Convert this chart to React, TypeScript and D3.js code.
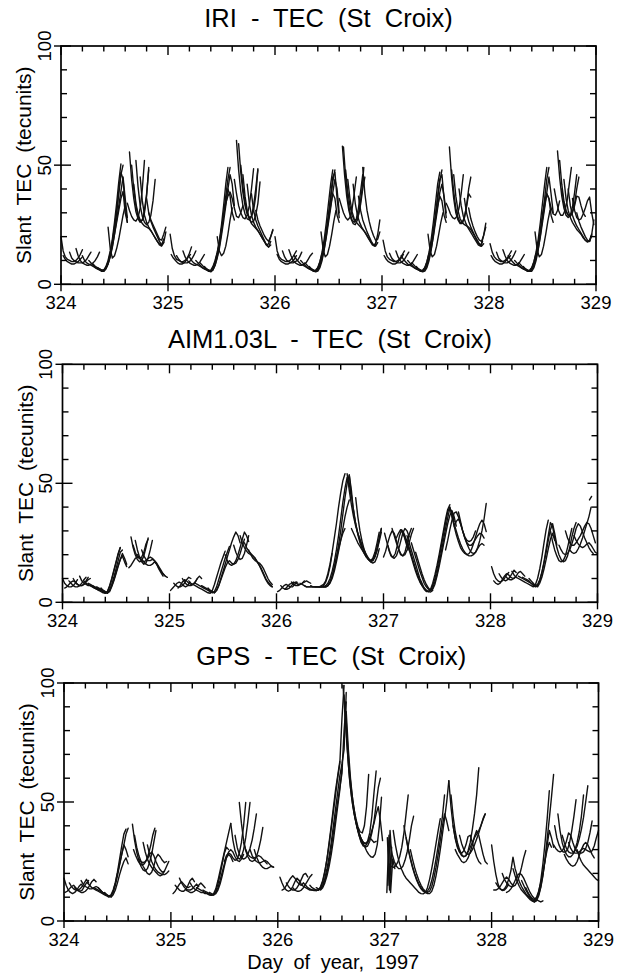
import React from "react";
import * as d3 from "d3";

// Each trace: [startDay, v0, v1, ...] sampled every STEP days
const STEP = 0.02;

const panelTitles = ["IRI - TEC (St Croix)", "AIM1.03L - TEC (St Croix)", "GPS - TEC (St Croix)"];
const dayTicks = [324, 325, 326, 327, 328, 329];
const yMajorTicks = [0, 50, 100];
const yMinorTicks = [10, 20, 30, 40, 60, 70, 80, 90];
const yLabel = "Slant TEC (tecunits)";
const xLabel = "Day of year, 1997";

const iri324 = [
  [324.00, 20, 14, 11.5, 10.5, 10, 9.5, 9.5, 10, 11, 12.5, 14.5],
  [324.02, 12, 10.5, 9.5, 9, 8.5, 8.5, 9, 9.5, 10.5, 11.5],
  [324.08, 13.5, 11, 10, 9.5, 9, 9, 9, 9.5, 10.5, 12, 13.5],
  [324.14, 15, 12, 10, 9, 8.5, 8, 8, 8.5, 9, 10, 11.5, 13.5],
  [324.20, 12, 10, 9, 8.5, 8, 7.5, 7, 6.5, 6, 5.5, 5.5, 6.5, 8.5, 12, 17, 23, 30, 38, 46, 50],
  [324.26, 10, 9, 8, 7, 6.5, 6, 5.5, 6, 7.5, 10, 14, 19, 26, 34, 43, 50.5],
  [324.30, 8.5, 7.5, 7, 6.5, 6, 6, 7, 9.5, 13, 18, 24, 31, 39, 47, 44, 33, 26],
  [324.34, 7, 6.5, 6, 5.5, 6.5, 8.5, 11.5, 15.5, 21, 27, 33, 39, 45, 36, 28],
  [324.38, 5.5, 6, 7, 9, 12, 16, 21, 26, 31, 36, 39, 30, 26],
  [324.44, 24, 15, 11, 12, 15, 19, 24, 29, 33],
  [324.62, 34, 31, 28.5, 27, 26.5, 28, 32, 40, 52],
  [324.64, 55.5, 44, 36, 30.5, 27.5, 26, 27, 31, 38, 48],
  [324.66, 50, 40, 33, 28.5, 26.5, 27, 30, 37, 49],
  [324.70, 52, 41, 33, 28.5, 26, 25, 26, 29, 35, 44],
  [324.68, 42, 34, 29.5, 27, 25.5, 24.5, 24, 23.5, 22.5, 21, 19.5, 18, 16.5, 16, 17.5],
  [324.74, 45, 35, 29, 26, 24, 22.5, 21, 19.5, 18, 17, 16.5, 19],
  [324.80, 36, 30, 26.5, 24, 22, 20, 18, 16.5, 17.5, 22],
  [324.82, 30, 27, 25, 23, 21, 19, 18.5, 21, 24],
];

const iri325 = [
  [325.02, 21, 15, 12, 10.5, 10, 9.5, 9.5, 10, 11, 13, 15.7],
  [325.03, 12.5, 11, 10, 9, 8.5, 8.5, 9, 10, 11.5, 12.5],
  [325.08, 12, 10.5, 9.5, 9, 9, 9, 9.5, 10.5, 12, 14],
  [325.14, 14, 11.5, 10, 9, 8.5, 8, 8, 8.5, 9.5, 11, 12.5],
  [325.20, 11.5, 10, 9, 8.5, 8, 7.5, 7, 6.5, 6, 5.5, 5.2, 6, 8, 11.5, 16, 22, 29, 37, 44, 49],
  [325.26, 10, 9, 8, 7, 6.5, 6, 5.5, 5.5, 7, 9.5, 13, 18, 25, 33, 42, 49],
  [325.30, 9, 8, 7, 6.5, 6, 5.5, 6.5, 9, 12.5, 17, 23, 29, 34, 37, 38.7, 36, 32, 28.5, 28, 30, 33],
  [325.34, 7.5, 6.5, 6, 5.5, 6, 8, 11, 15, 20.5, 26.5, 33, 40, 46, 42, 33],
  [325.38, 5.5, 6, 7.5, 10, 13.5, 18, 23.5, 29, 35, 40, 37, 30, 27],
  [325.46, 20, 14, 12, 13, 16, 21, 27, 32],
  [325.64, 60.4, 48, 39, 33, 29.5, 27.5, 27, 28.5, 33, 40, 48.5],
  [325.66, 59, 47, 38.5, 33, 29.5, 28, 28.5, 31, 37, 48],
  [325.62, 44, 38, 33, 30, 28, 27.5, 29, 33, 40, 48.5],
  [325.68, 50, 41, 34.5, 30, 27.5, 26, 26.5, 29, 34, 43],
  [325.70, 46, 37, 31, 27.5, 25.5, 24.5, 23.5, 22.5, 21, 19.5, 18, 16.5, 15.6, 16.5],
  [325.74, 42, 34, 29, 26, 24, 22.5, 21, 19.5, 18, 16.5, 15.6, 18],
  [325.78, 38, 31, 27, 24.5, 22.5, 20.5, 18.5, 16.5, 17, 20, 22.6],
  [325.82, 31, 27, 24.5, 22.5, 20.5, 19, 18, 20, 23],
];

const iri326 = [
  [326.00, 20, 14, 11.5, 10.5, 10, 9.5, 9.5, 10, 11, 12.5, 14],
  [326.02, 12.5, 10.5, 9.5, 9, 8.5, 8.5, 9, 9.5, 10.5, 12],
  [326.07, 14, 11.5, 10, 9.5, 9, 9, 9.5, 10, 11.5, 13.5],
  [326.13, 14.5, 12, 10, 9, 8.5, 8, 8, 8.5, 9, 10.5, 12, 13],
  [326.18, 12, 10.5, 9.5, 8.5, 8, 7.5, 7, 6.5, 6, 5.5, 5.2, 5.5, 7, 10, 14.5, 20.5, 28, 36, 43, 48],
  [326.24, 10, 9, 8, 7, 6.5, 6, 5.5, 5.5, 7, 9.5, 13.5, 19, 26, 34, 42, 48],
  [326.28, 9, 8, 7, 6.5, 6, 5.5, 6.5, 8.5, 12, 16.5, 22.5, 29.5, 37, 45, 47, 36, 28],
  [326.32, 7.5, 6.5, 6, 5.5, 6, 8, 11, 15, 20, 26, 32, 38.5, 44, 40, 30],
  [326.36, 5.5, 6, 7, 9.5, 13, 17, 22, 27.5, 33, 38, 36, 29, 26],
  [326.43, 22, 14.5, 11.5, 12.5, 16, 21, 26.5, 31],
  [326.60, 36, 33, 30, 28, 27, 28, 31.5, 38, 45],
  [326.63, 58, 46, 37, 31, 27.5, 25.5, 25, 27, 31.5, 38.5, 49],
  [326.64, 57.6, 45, 36, 30, 27, 26, 27.5, 32, 39, 46],
  [326.66, 48, 39, 33, 29, 27, 27, 29, 33.5, 40, 45],
  [326.68, 44, 36, 30.5, 27.5, 26, 25, 24, 23, 22, 20.5, 19, 17.5, 16.5, 16, 17.5],
  [326.73, 42, 34, 29, 26, 24, 22.5, 21, 19.5, 18, 16.5, 16, 18.5],
  [326.78, 37, 31, 27, 24.5, 22, 20, 18, 16.5, 17, 21, 27],
  [326.82, 49, 38, 31, 26.5, 23, 20.5, 18.5, 19, 22],
];

const iri327 = [
  [327.01, 18.5, 14, 11.5, 10.5, 10, 9.5, 9.5, 10, 11, 12.5, 14],
  [327.02, 12, 10.5, 9.5, 9, 8.5, 8.5, 9, 10, 11, 12.5],
  [327.07, 13, 11, 10, 9.5, 9, 9, 9.5, 10.5, 12, 13.5],
  [327.13, 14, 11.5, 10, 9, 8.5, 8, 8, 8.5, 9.5, 11, 12.5],
  [327.18, 12, 10.5, 9.5, 8.5, 8, 7.5, 7, 6.5, 6, 5.5, 5.2, 5.5, 7, 10, 14.5, 20.5, 28, 36, 43, 48],
  [327.24, 10, 9, 8, 7, 6.5, 6, 5.5, 5.5, 7, 9.5, 13.5, 19, 26, 34, 42, 47],
  [327.28, 9, 8, 7, 6.5, 6, 5.5, 6.5, 8.5, 12, 16.5, 22.5, 29.5, 37, 44, 46, 36, 28],
  [327.32, 7.5, 6.5, 6, 5.5, 6, 8, 11, 15, 20, 26, 32, 38.5, 42, 37, 30],
  [327.36, 5.5, 6, 7, 9.5, 13, 17, 22, 27.5, 33, 37, 35, 29, 26],
  [327.43, 21, 14, 11.5, 12.5, 16, 21, 26, 30],
  [327.60, 34, 32, 29.5, 28, 27.5, 28.5, 32, 38, 46],
  [327.63, 57.6, 45, 36, 30, 27, 25.5, 25.5, 28, 33, 40, 45],
  [327.65, 48, 39, 32, 28, 26, 26, 28, 32.5, 38, 36.6],
  [327.67, 46, 37, 31, 27.5, 26, 25, 24.5, 24, 23, 21.5, 20, 18.5, 17, 16, 17],
  [327.72, 40, 33, 28.5, 26, 24, 22.5, 21, 19.5, 18, 16.5, 16, 18],
  [327.77, 36, 30, 26.5, 24, 22, 20, 18, 16.5, 17, 20.5, 25.6],
  [327.81, 32, 27.5, 24.5, 22, 20, 18.5, 18, 20.5, 24],
];

const iri328 = [
  [328.01, 17, 13.5, 11.5, 10.5, 10, 9.5, 9.5, 10, 11, 12.5, 14],
  [328.02, 12, 10.5, 9.5, 9, 8.5, 8.5, 9, 10, 11, 12],
  [328.07, 13.5, 11, 10, 9.5, 9, 9, 9.5, 10.5, 12, 14],
  [328.13, 14.5, 12, 10, 9, 8.5, 8, 8, 8.5, 9.5, 11, 12.5],
  [328.18, 12, 10.5, 9.5, 8.5, 8, 7.5, 7, 6.5, 6, 5.5, 5.5, 5.5, 7, 10, 14.5, 20.5, 28, 36, 44, 49],
  [328.24, 10, 9, 8, 7, 6.5, 6, 5.5, 5.5, 7, 9.5, 13.5, 19, 26, 34, 42, 49],
  [328.28, 9, 8, 7, 6.5, 6, 5.5, 6.5, 8.5, 12, 16.5, 22.5, 29.5, 34.5, 38, 36, 32, 29.5, 29, 31, 35],
  [328.32, 7.5, 6.5, 6, 5.5, 6, 8, 11, 15, 20, 26, 32, 38.5, 45, 38, 30],
  [328.36, 5.5, 6, 7, 9.5, 13, 17, 22, 27.5, 33, 38, 36, 29, 26],
  [328.43, 22, 14.5, 11.5, 12.5, 16, 21, 26.5, 31],
  [328.61, 40, 35, 31, 29, 29, 31, 35, 42, 49],
  [328.64, 56, 45, 37, 32, 29, 28, 29, 32.5, 38.5, 46],
  [328.66, 52, 42, 35, 31, 29, 28.5, 30, 34, 40, 45],
  [328.68, 40, 34, 30.5, 29, 29, 30.5, 33, 37, 36.6, 33, 30, 28.5],
  [328.70, 44, 36, 31, 28, 26, 24.5, 23, 22, 21, 19.5, 18.5, 17.8, 18, 20.5],
  [328.74, 40, 33, 29, 26.5, 24.5, 23, 21.5, 20, 18.5, 17.8, 18.5, 21],
  [328.78, 36, 31, 28, 27, 27.5, 29.5, 32, 35, 36.6, 30, 25],
  [328.82, 30, 26.5, 24, 22, 20, 18.5, 18, 21, 27],
];

const aim324 = [
  [324.00, 10, 8, 7, 6.5, 6.5, 7, 8, 9.5],
  [324.02, 6, 6.5, 7.5, 8.5, 9, 8.5, 7.5, 7, 7, 7.5, 9, 10.5],
  [324.06, 9, 8, 7, 6.5, 6.5, 7, 8, 9.5, 10.5],
  [324.10, 10, 8.5, 7.5, 7, 7, 7.5, 8.5, 9.5, 10],
  [324.16, 11, 9, 8, 7.5, 7, 7, 6.5, 6, 5.5, 5],
  [324.20, 9, 8, 7.5, 7, 6.5, 6, 5.5, 5, 4.5, 4, 3.8, 4.5, 6.5, 9.5, 13, 16.5, 20, 23],
  [324.24, 8, 7.5, 7, 6.5, 6, 5.5, 5, 4.5, 4, 4.5, 7, 10, 13.5, 17, 20.5, 23],
  [324.28, 7, 6.5, 6, 5.5, 5, 4.5, 4, 3.8, 5, 7.5, 10.5, 14, 17.5, 21, 22],
  [324.32, 6.5, 6, 5.5, 5, 4.5, 4, 4.5, 6.5, 9, 12, 15, 18, 20.5, 18.5, 16],
  [324.36, 6, 5, 4.5, 4, 5, 7, 9.5, 12.5, 15.5, 18, 19.5, 17, 15],
  [324.64, 27.5, 23, 20, 18, 17, 17.5, 19.5, 23, 27],
  [324.66, 24, 21, 19, 18.5, 19, 21, 24.5, 26.5],
  [324.68, 26, 22, 19, 17, 16, 16.5, 18.5, 22, 26],
  [324.70, 20, 18.5, 17.5, 17, 17.5, 18.5, 19, 18.5, 17.5, 16, 14.5, 13, 12, 11],
  [324.74, 22, 19.5, 18, 17.5, 17.5, 18, 17.5, 16.5, 15, 13.5, 12, 11, 10.5],
  [324.62, 14.5, 15.5, 17, 18.5, 19, 19, 18, 17, 16, 15.5, 15.5, 16, 17, 16, 14, 12.5, 11],
];

const aim325 = [
  [325.01, 5, 6, 7, 8, 8.5, 8, 7, 6.5, 7, 8.5],
  [325.04, 8, 7, 6.5, 6.5, 7, 8, 9.5, 10.5, 10],
  [325.08, 6, 7, 8.5, 9.5, 9, 8, 7.5, 7.5, 8.5, 10],
  [325.12, 10, 8.5, 7.5, 7, 7, 7.5, 8.5, 10, 11, 10],
  [325.18, 9, 8, 7.5, 7, 6.5, 6, 5.5, 5, 4.5, 4, 3.8, 5, 7.5, 10.5, 13.5, 16.5, 19, 21.5],
  [325.24, 8, 7.5, 7, 6.5, 6, 5.5, 5, 4.5, 4, 4.5, 6.5, 9.5, 12.5, 15.5, 18.5, 21, 23.5],
  [325.30, 7, 6.5, 6, 5.5, 5, 4.5, 4, 5, 7, 10, 13, 16, 19, 22, 25, 27.5, 29.5, 28, 25],
  [325.36, 6, 5, 4.5, 4, 5, 7, 9.5, 12, 14.5, 16.5, 17.5, 16.5, 16, 16.5, 18, 20.5, 23.5, 26.5],
  [325.52, 20, 17.5, 16, 15.5, 16, 17.5, 20, 23, 26.5, 29.5, 28, 25.5],
  [325.60, 24, 21, 19, 18, 18.5, 20.5, 24, 28],
  [325.66, 28, 25, 23, 21.5, 20.5, 20, 19.5, 18.5, 17, 15.5, 14, 12, 10, 8.5, 7.5, 6.5],
  [325.70, 25, 23, 21.5, 20.5, 19.5, 18.5, 17, 15.5, 13.5, 11.5, 9.5, 8, 7, 6.5],
  [325.74, 22, 20, 18.5, 17.5, 17, 16.5, 15.5, 14, 12, 10, 8.5, 7.5],
];

const aim326 = [
  [326.01, 4.5, 5, 6, 7, 7.5, 7, 6.5, 6.5, 7.5, 8.5],
  [326.04, 7, 6, 5.5, 5.5, 6, 7, 8, 8.5, 8],
  [326.08, 5.5, 6.5, 7.5, 8, 8.5, 8, 7.5, 7.5, 8, 9],
  [326.14, 8.5, 7.5, 7, 7, 7.5, 8, 8.5, 9, 8.5, 8],
  [326.22, 8, 7.5, 7, 6.5, 6.5, 6.5, 6.5, 6.5, 6.5, 6.5, 6.5, 7, 8.5, 11, 15, 20.5],
  [326.26, 7, 6.5, 6.5, 6.5, 6.5, 6.5, 6.5, 6.5, 7, 7.5, 9, 12, 16, 21, 27, 33, 40, 46, 51, 54],
  [326.32, 7, 6.5, 6.5, 6.5, 6.5, 6.5, 6.5, 7, 8, 10, 13, 17, 22, 28, 35, 42, 48, 52.5, 50, 44],
  [326.36, 6.5, 6.5, 6.5, 6.5, 6.5, 6.5, 7, 8.5, 11, 14.5, 19, 24, 30, 37, 44, 50, 53.5, 47, 38],
  [326.40, 6.5, 6.5, 6.5, 6.5, 7, 8, 10, 13, 17, 21.5, 26, 31, 36, 40, 43],
  [326.44, 6.5, 6.5, 7, 8.5, 11, 14.5, 18.5, 22.5, 26, 29, 31],
  [326.66, 54, 47, 41, 36, 32, 29, 26.5, 24, 22, 20, 18.5, 17.5, 17.5, 19, 22, 26.5, 31],
  [326.68, 53.5, 45, 38, 33, 29, 26, 23.5, 21.5, 19.5, 18, 17, 17.5, 19.5, 23, 27, 31],
  [326.70, 31, 29, 27, 25, 23.5, 22, 20.5, 19, 18, 17.5, 18, 19.5, 22, 25.5, 29.5],
  [326.72, 39, 33, 28.5, 25, 22.5, 20.5, 19, 18, 17.5, 18.5, 21, 25, 29.5],
  [326.74, 44, 36, 30, 25.5, 22, 19.5, 18, 17, 16.5, 17, 19, 22.5],
];

const aim327 = [
  [327.00, 19, 21.5, 25, 28, 30, 29, 26, 22.5, 20, 19.5, 21, 24.5, 28.5, 31],
  [327.01, 29, 25.5, 22, 19.5, 19, 20.5, 24, 28, 30.5, 28.5, 25, 22],
  [327.04, 24, 21, 19, 18.5, 19.5, 22, 25.5, 29, 31, 30, 27.5],
  [327.08, 31, 28, 25, 22.5, 20.5, 19.5, 20, 22, 25, 28.5, 31],
  [327.12, 27, 29, 30.5, 29, 27, 24.5, 22, 19, 16, 13, 10.5, 8.5, 7, 6, 5, 4.5, 4.3, 5],
  [327.18, 30, 28, 25.5, 23, 20, 17, 14, 11.5, 9, 7, 5.5, 4.5, 4.5, 5.5, 8, 11.5, 15.5, 20, 25, 30, 35, 39, 41],
  [327.22, 28, 25, 22, 19, 16, 13, 10, 8, 6, 5, 4.5, 5, 7, 10, 14, 18.5, 23.5, 28.5, 33.5, 38, 40],
  [327.26, 25, 22, 19, 16, 13, 10.5, 8, 6.5, 5.5, 5, 6, 8.5, 12, 16.5, 21, 26, 31, 35.5, 39.5, 38, 34],
  [327.30, 21, 18, 15, 12, 9.5, 7.5, 6, 5, 5.5, 7.5, 11, 15, 19.5, 24, 28.5, 33, 36.5, 38.5, 36, 32],
  [327.62, 40, 36, 32, 28.5, 25.5, 23, 21.5, 20.5, 20, 20.5, 22, 24.5, 27.5, 30.5, 33, 34.5, 33, 29.7],
  [327.64, 36, 33, 30, 27, 24.5, 22.5, 21, 20, 19.5, 19.5, 20, 21, 22.5, 24, 24.7, 24],
  [327.66, 32, 34, 35, 33, 30, 27, 24.5, 22.5, 21, 20.5, 21, 23, 26, 30, 35, 41.5],
  [327.70, 38, 34, 30, 27, 25, 24, 24, 25, 26.5, 28, 29, 28.5, 27],
  [327.58, 22, 26, 30.5, 34.5, 37.5, 38, 36, 33, 30, 27.5, 26, 25.5, 26, 27.5, 30],
];

const aim328 = [
  [328.01, 15, 12, 10, 9, 8.5, 9, 10, 11.5, 12.5],
  [328.03, 9, 8, 7.5, 8, 9.5, 11, 12, 11.5, 10.5, 10, 10.5],
  [328.08, 12, 10.5, 9.5, 9, 9.5, 10.5, 12, 13.5, 12.5],
  [328.14, 11, 10, 9.5, 9.5, 10, 11, 12.5, 13, 12, 11],
  [328.20, 13, 11.5, 10.5, 10, 9.5, 9, 8.5, 8, 7.5, 7, 6.5, 7.5, 10, 14, 19, 25, 30.5, 34.5],
  [328.26, 11, 10.5, 10, 9.5, 9, 8.5, 8, 7, 6.5, 7, 9, 12.5, 17, 22.5, 28, 33.5, 32, 27],
  [328.30, 10.5, 10, 9.5, 9, 8, 7.5, 7, 7.5, 9.5, 12.5, 16.5, 21, 26, 30.5, 33, 29, 24],
  [328.36, 10, 9, 8, 7, 6.5, 8, 10.5, 14, 18, 22.5, 26.5, 29, 26],
  [328.56, 30, 25.5, 22, 19.5, 17.5, 17, 17.5, 19.5, 23, 27, 31],
  [328.60, 27, 23, 20, 18, 17, 17.5, 19.5, 23, 27.5, 31, 33.5],
  [328.64, 24, 22, 20.5, 20, 20.5, 22, 24.5, 27.5, 31, 33, 32, 29.5, 27, 25, 23, 21.5, 20.5],
  [328.70, 30, 27, 25, 24, 24, 25, 26.5, 28, 30, 32, 33.5, 33, 31, 28, 25],
  [328.74, 22, 21, 20.5, 21, 22.5, 24.5, 27, 30, 33, 36, 40],
  [328.78, 28, 26, 24.5, 23.5, 23, 23.5, 24.5, 25, 24, 22.5, 21, 20.5],
  [328.925, 43, 44.5],
];

const gps324 = [
  [324.00, 18, 15, 13, 12, 11.5, 12, 13, 14.5, 15.5, 14.5],
  [324.01, 12, 12.5, 13.5, 14.5, 15, 14, 13, 12.5, 13, 14.5, 16, 17],
  [324.05, 16, 14.5, 13.5, 13, 13, 13.5, 14.5, 16, 17.5, 16],
  [324.10, 14, 13, 12.5, 12, 12, 12.5, 13.5, 15, 16.5, 17.5, 16.5],
  [324.16, 17, 15.5, 14.5, 14, 13.5, 13.5, 14, 14.5, 14, 13, 12, 11.5],
  [324.22, 16, 15, 14, 13.5, 13, 12.5, 12, 11.5, 11, 10.5, 10, 10.5, 12.5, 16, 20.5, 26, 31.5, 36.5, 38.6],
  [324.28, 14, 13.5, 13, 12.5, 12, 11.5, 11, 10.5, 10.5, 12, 15, 19, 23.5, 28, 32, 30, 27],
  [324.32, 14, 13, 12, 11.5, 11, 10.5, 11, 13, 16, 20, 24, 28, 32, 36.5, 39],
  [324.38, 12, 11, 10.5, 10, 11, 13, 16, 19.5, 22.5, 25, 26.5, 24],
  [324.64, 40.7, 34, 29, 25.5, 23, 21.5, 21, 22, 24.5, 28, 33, 38],
  [324.65, 30, 27.5, 25.5, 24, 23.5, 24, 25.5, 28, 31.5, 36, 39],
  [324.66, 36, 31, 27.5, 25, 23, 21.5, 20, 19.5, 20.5, 23, 26.5, 28, 27, 25.5, 24.5, 25],
  [324.70, 26, 25, 24.5, 25, 26, 28, 29, 27.5, 25, 23, 21.5, 20.5, 21],
  [324.74, 33, 29, 26, 24, 22.5, 21.5, 20.5, 19.5, 19, 19.5, 21, 23, 25],
  [324.78, 32, 28, 25, 23, 21.5, 20.5, 20, 19.5, 19.5, 20, 21],
];

const gps325 = [
  [325.02, 11.5, 12.5, 14, 15.5, 16.5, 15.5, 14.5, 14, 14.5],
  [325.04, 15, 14, 13, 12.5, 12.5, 13.5, 15, 17, 18, 16.5],
  [325.08, 18, 16, 14.5, 13.5, 13, 13, 13.5, 14.5, 15.5, 14.5],
  [325.14, 13, 12.5, 12, 12, 12.5, 13.5, 15, 16, 15, 14],
  [325.18, 16, 14.5, 13.5, 13, 12.5, 12, 12, 11.5, 11.5, 11, 10.8, 11, 12.5, 15.5, 19.5, 24, 28.5, 31, 30],
  [325.24, 14, 13.5, 13, 12.5, 12, 11.5, 11, 10.8, 11.5, 13.5, 17, 21, 25, 29, 33, 37, 41],
  [325.30, 13, 12.5, 12, 11.5, 11, 11, 12, 14, 17, 20.5, 24, 27, 29, 30, 29, 27, 25.5, 25, 26, 28],
  [325.36, 12, 11.5, 11, 11.5, 13, 15.5, 19, 23, 26.5, 28, 27, 25],
  [325.50, 25, 27.5, 28.5, 28, 26.5, 25.5, 26, 28.5, 33, 40, 49.8],
  [325.56, 41, 34, 29.5, 27, 26, 27, 30, 35, 42, 49.8],
  [325.60, 36, 31, 28, 26.5, 26, 26.5, 28, 30.5, 34, 39, 45],
  [325.64, 49.8, 41, 34, 29.5, 27, 25.5, 25, 25.5, 27, 30, 34, 39.3],
  [325.68, 33, 30, 28, 27, 26.5, 26.5, 27, 27.5, 27, 26, 25, 24],
  [325.74, 30, 27.5, 26, 25, 24.5, 24.5, 25, 25.5, 25, 24, 23, 22.6],
  [325.78, 30, 27, 25, 23.5, 22.5, 22, 22, 22.5, 23, 22.6],
];

const gps326 = [
  [326.02, 18.4, 16, 14, 13, 12.5, 13, 14.5, 16.5, 18, 17],
  [326.04, 13, 13.5, 15, 16.5, 18, 19, 18, 16.5, 15.5, 15, 16],
  [326.08, 16, 14.5, 13.5, 13, 13, 14, 15.5, 17.5, 19.5, 20, 18.5],
  [326.14, 14, 13, 12.5, 12.5, 13, 14, 15.5, 17, 18.5, 19.5],
  [326.20, 17, 15.5, 14.5, 14, 13.5, 13, 13, 12.8, 12.8, 13, 14, 16.5, 20.5, 26, 33, 40, 47.7, 55, 61, 67],
  [326.24, 16, 15, 14, 13.5, 13, 13, 12.8, 13, 14.5, 17, 21, 26, 32, 39, 46, 53, 60, 66, 85, 99],
  [326.30, 15, 14, 13.5, 13, 13, 13.5, 15, 18, 22, 27, 33, 40, 47, 54, 61, 66, 72, 96],
  [326.36, 14, 13.5, 13.5, 14.5, 17, 20.5, 25, 30.5, 37, 43.5, 50, 56, 62, 80, 92],
  [326.40, 13, 14, 16, 19, 23, 28, 34, 41, 48, 55, 64],
  [326.61, 99, 86, 72, 60, 52, 46, 41.5, 38, 35.5, 33.5, 31.5, 29.5, 28, 27, 26.8, 28, 32, 40, 52],
  [326.62, 95, 80, 66, 56, 49, 44, 40, 37, 34.5, 33, 32.5, 33.5, 37, 44, 54, 63],
  [326.63, 92, 76, 63, 54.7, 48, 43, 39.5, 37.5, 37, 40, 48, 61.6],
  [326.64, 88, 72, 60, 51, 45, 40.5, 37, 34.5, 33, 32.5, 33, 35, 38, 41, 45, 48, 42, 33.8],
  [326.70, 50, 44, 39.5, 36, 33.5, 32, 31, 31.5, 33.5, 37, 42, 49, 56, 60],
  [326.74, 40, 36, 33, 31.5, 31.5, 33, 35, 34, 33, 33.5],
];

const gps327 = [
  [327.02, 12, 36, 20],
  [327.025, 35, 13, 31],
  [327.03, 15, 38, 24],
  [327.035, 30, 12, 26, 22],
  [327.04, 24, 23, 22.5, 23, 24.5, 27, 31, 37, 45, 53],
  [327.05, 33, 28, 25, 23, 22, 22, 23, 25.5, 29, 34, 40, 44],
  [327.08, 38, 32, 27.5, 24, 21.5, 19.5, 18, 17, 16, 15, 14, 13, 12, 11.5, 11.4, 12, 14, 17.5, 22, 27, 32.5, 38, 43],
  [327.18, 40, 35, 30.5, 26.5, 23, 20, 17.5, 15.5, 14, 13, 12, 11.5, 11.5, 12.5, 15, 19, 24, 30, 36.5, 43, 50, 58.9],
  [327.20, 35, 30, 26, 22.5, 19.5, 17, 15, 13.5, 12.5, 12, 12.5, 14, 17, 21, 26, 31.5, 37.5, 44, 53],
  [327.24, 30, 26, 22.5, 19.5, 17, 15, 13.5, 12.5, 12, 12.5, 14.5, 18, 22.5, 28, 34, 40, 45, 42, 38],
  [327.62, 53, 44, 37.5, 33, 30, 28, 27, 27.5, 29.5, 33, 38.5, 45, 53, 64.4],
  [327.60, 58.9, 48, 40, 34.5, 31, 29, 28.5, 29.5, 32, 35.5, 36, 33, 30, 27, 25, 24],
  [327.64, 40, 35, 31.5, 29, 27.5, 27, 27.5, 29, 31, 33, 35, 36.5, 38, 40, 42.5, 45],
  [327.66, 30, 28, 26.5, 25, 24.5, 25, 26.5, 29, 32, 35.5, 38, 36, 32, 28, 25, 24],
  [327.70, 36, 32.5, 30, 28.5, 28, 28.5, 30, 32, 34.5, 37, 40, 43, 45],
];

const gps328 = [
  [328.00, 32, 25, 19.5, 15.5, 13.5, 12.8, 13, 14, 15.5],
  [328.02, 13, 13, 13.5, 14.5, 16, 17.5, 18.5, 17.5, 16, 15],
  [328.04, 16, 14.5, 13.5, 13, 13.5, 15, 17.5, 21, 26.8, 22, 19],
  [328.10, 20, 17.5, 16, 15, 14.5, 14.5, 15, 16.5, 19, 22.5, 26.5, 29.6],
  [328.14, 12, 12.5, 13.5, 15, 17, 19, 20, 19.5, 18, 16, 14, 12, 10.5, 9.5, 9, 8.5, 8, 8.5],
  [328.20, 22, 19, 16.5, 14.5, 13, 12, 11, 10, 9, 8.5, 8, 9, 12, 17, 24, 33, 43, 54.7],
  [328.24, 19, 16.5, 14.5, 13, 11.5, 10.5, 9.5, 8.5, 8, 8.5, 10.5, 14, 19, 26, 34.5, 43, 52, 61.6],
  [328.28, 17, 15, 13, 11.5, 10, 9, 8.5, 9, 11, 14.5, 19.5, 25.5, 32, 38, 35, 31],
  [328.32, 14, 12, 10.5, 9.5, 9, 10, 12.5, 16, 20.5, 25.5, 30, 33, 31],
  [328.59, 40, 35, 32, 30, 29, 29, 30, 33, 38, 44, 51],
  [328.58, 32, 30.5, 29.5, 29, 29.5, 31, 33.5, 37, 36, 33, 30.5, 29, 28.5, 28.5, 29, 30.5, 33, 37, 42],
  [328.62, 45, 38, 33, 30, 28, 27, 27, 28, 30, 33, 37.5, 44, 53],
  [328.66, 36, 33, 30.5, 29, 28.5, 28.5, 29.5, 31.5, 34.5, 38.5, 43.5, 50, 56.8],
  [328.68, 28, 26, 24.5, 23.5, 23, 23.5, 25, 27.5, 30, 32, 33, 32, 30, 28, 26.5],
  [328.72, 33, 30.5, 29, 28.5, 28.5, 29, 30, 30.5, 30, 29.5, 29, 29.5, 31.5, 35, 38],
  [328.80, 30, 27, 25, 23.5, 22.5, 21.5, 20.5, 19.5, 18.5, 17.5, 17],
];

const iriTraces = [...iri324, ...iri325, ...iri326, ...iri327, ...iri328];
const aimTraces = [...aim324, ...aim325, ...aim326, ...aim327, ...aim328];
const gpsTraces = [...gps324, ...gps325, ...gps326, ...gps327, ...gps328];

const FONT = "'Liberation Sans', Arial, Helvetica, sans-serif";

const layouts = [
  { left: 61, right: 596, top: 46, bottom: 284.3, titleY: 26.5 },
  { left: 62.5, right: 597.5, top: 364.3, bottom: 602.3, titleY: 348 },
  { left: 64, right: 598.5, top: 683, bottom: 921, titleY: 664.5 },
];

function Panel({ layout, title, traces, showXLabel }) {
  const { left, right, top, bottom, titleY } = layout;
  const x = d3.scaleLinear().domain([324, 329]).range([left, right]);
  const y = d3.scaleLinear().domain([0, 100]).range([bottom, top]);
  const line = d3
    .line<[number, number]>()
    .x((d) => x(d[0]))
    .y((d) => y(d[1]));
  const minorX = d3.range(324, 329.0001, 0.2).filter((t) => Math.abs(t - Math.round(t)) > 0.01);
  const cx = (left + right) / 2;
  const cy = (top + bottom) / 2;
  return (
    <g>
      <text x={cx} y={titleY} textAnchor="middle" fontSize={25.5} fontFamily={FONT} wordSpacing={7} fill="#000">
        {title}
      </text>
      <g fill="none" stroke="#111" strokeWidth={1.4} strokeLinejoin="round" strokeLinecap="round">
        {traces.map((tr, i) => {
          const pts: [number, number][] = tr.slice(1).map((v, j) => [tr[0] + j * STEP, v]);
          return <path key={i} d={line(pts) || ""} />;
        })}
      </g>
      <rect x={left} y={top} width={right - left} height={bottom - top} fill="none" stroke="#000" strokeWidth={1.7} />
      <g stroke="#000" strokeWidth={1.4}>
        {dayTicks.map((t) => (
          <g key={"d" + t}>
            <line x1={x(t)} x2={x(t)} y1={bottom - 9} y2={bottom + 7} />
            <line x1={x(t)} x2={x(t)} y1={top} y2={top + 9} />
          </g>
        ))}
        {minorX.map((t, i) => (
          <g key={"m" + i}>
            <line x1={x(t)} x2={x(t)} y1={bottom - 5.5} y2={bottom} />
            <line x1={x(t)} x2={x(t)} y1={top} y2={top + 5.5} />
          </g>
        ))}
        {yMinorTicks.map((v) => (
          <g key={"ym" + v}>
            <line x1={left} x2={left + 6} y1={y(v)} y2={y(v)} />
            <line x1={right - 6} x2={right} y1={y(v)} y2={y(v)} />
          </g>
        ))}
        {yMajorTicks.map((v) => (
          <g key={"yM" + v}>
            <line x1={left - 7} x2={left + 10} y1={y(v)} y2={y(v)} />
            <line x1={right - 10} x2={right} y1={y(v)} y2={y(v)} />
          </g>
        ))}
      </g>
      {dayTicks.map((t) => (
        <text key={"l" + t} x={x(t)} y={bottom + 24.5} textAnchor="middle" fontSize={18.5} fontFamily={FONT} fill="#000">
          {t}
        </text>
      ))}
      {yMajorTicks.map((v) => (
        <text
          key={"yl" + v}
          transform={`translate(${left - 10.3},${y(v)}) rotate(-90)`}
          textAnchor="middle"
          fontSize={18.5}
          fontFamily={FONT}
          fill="#000"
        >
          {v}
        </text>
      ))}
      <text
        transform={`translate(${left - 30},${cy}) rotate(-90)`}
        textAnchor="middle"
        fontSize={21}
        fontFamily={FONT}
        wordSpacing={5}
        fill="#000"
      >
        {yLabel}
      </text>
      {showXLabel && (
        <text x={cx + 2} y={969} textAnchor="middle" fontSize={20} fontFamily={FONT} wordSpacing={5} fill="#000">
          {xLabel}
        </text>
      )}
    </g>
  );
}

export default function App() {
  const data = [iriTraces, aimTraces, gpsTraces];
  return (
    <svg
      width={623}
      height={977}
      viewBox="0 0 623 977"
      style={{ position: "absolute", left: 0, top: 0, background: "#fff" }}
    >
      <rect x={0} y={0} width={623} height={977} fill="#fff" />
      {layouts.map((l, i) => (
        <Panel key={i} layout={l} title={panelTitles[i]} traces={data[i]} showXLabel={i === 2} />
      ))}
    </svg>
  );
}
